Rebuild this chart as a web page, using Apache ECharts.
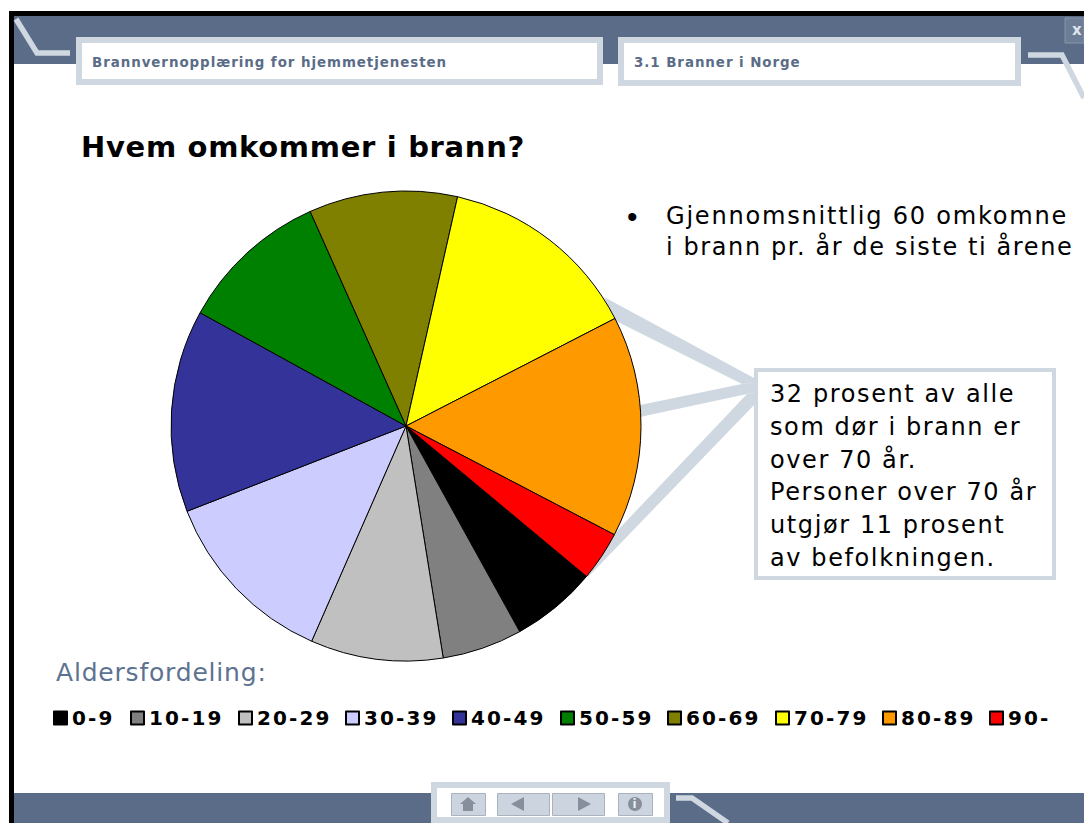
<!DOCTYPE html>
<html><head><meta charset="utf-8">
<style>html,body{margin:0;padding:0;background:#fff}#c{width:1084px;height:823px}
#c text[style*="29px"]{letter-spacing:.68px}
#c text[style*="13.4px"]{letter-spacing:.95px}
#c text[style*="24.1px"]{letter-spacing:1.75px}
#c text[style*="24.01px"]{letter-spacing:1.6px}
#c text[style*="24px"]{letter-spacing:1.6px}
#c text[style*="20px"]{letter-spacing:2.1px}
#c text[style*="25px"]{letter-spacing:.8px}
</style>
<script src="https://cdn.jsdelivr.net/npm/echarts@6/dist/echarts.min.js"></script>
</head><body><div id="c"></div>
<script>
const ageGroups = ['0-9','10-19','20-29','30-39','40-49','50-59','60-69','70-79','80-89','90-'];
const shares = [5.9,5.5,9.1,12.5,13.9,10.3,10.2,13.9,15.2,3.4];
const sliceColors = ['#000000','#808080','#c0c0c0','#ccccff','#333399','#008000','#808000','#ffff00','#ff9900','#ff0000'];
const legendLefts = [48,125,233,340,447,555,662,770,877,984];
const titleText = 'Hvem omkommer i brann?';
const header1 = 'Brannvernopplæring for hjemmetjenesten';
const header2 = '3.1 Branner i Norge';
const legendHeading = 'Aldersfordeling:';
const bulletLines = ['Gjennomsnittlig 60 omkomne','i brann pr. år de siste ti årene'];
const calloutLines = ['32 prosent av alle','som dør i brann er','over 70 år.','Personer over 70 år','utgjør 11 prosent','av befolkningen.'];

const BAND='#5a6c87', PALE='#cfd7e1', BTN='#ccd5df', ICON='#868f9b';
const rect=(x,y,w,h,fill,stroke,lw,z)=>({type:'rect',shape:{x,y,width:w,height:h},style:{fill,stroke:stroke||null,lineWidth:lw||0},z:z===undefined?-5:z,silent:true});
const poly=(points,fill,z)=>({type:'polygon',shape:{points},style:{fill:fill||PALE},z:z===undefined?-4:z,silent:true});
const line=(points,z)=>({type:'polyline',shape:{points},style:{stroke:PALE,lineWidth:5.5,fill:null},z:z===undefined?-3:z,silent:true});
const txt=(x,y,text,font,fill)=>({type:'text',x,y,style:{text,fontFamily:font.f,fontSize:font.s,fontWeight:font.w||'normal',fill:fill||'#000',textVerticalAlign:'middle',textBaseline:'middle'},z:10,silent:true});
const box=(x,y,w,h,b)=>rect(x+b/2,y+b/2,w-b,h-b,'#fff',PALE,b,-2);
const btn=(x,y,w,h)=>rect(x,y,w,h,BTN,'#a9b2bd',1,5);

const g=[
  rect(9,11,1075,812,'#fff',null,0,-6),
  rect(9,11,1075,5,'#000',null,0,-5),
  rect(9,11,5,812,'#000',null,0,-5),
  rect(14,16,1070,48,BAND,null,0,-5),
  rect(14,793,1070,30,BAND,null,0,-5),
  line([[16,19],[37,53],[70,53]]),
  line([[1028,55],[1062,55],[1084,98]]),
  line([[676,798],[692,798],[728,823]]),
  box(76,37,527,48,6),
  box(618,37,403,49,6),
  rect(1065,18,19,25,'#6c7d95','#8795a8',1,5),
  txt(1072,30,'x',{f:'DejaVu Sans',s:15,w:'bold'},'#dfe4ea'),
  txt(92,62,header1,{f:'DejaVu Sans',s:13.4,w:'bold'},BAND),
  txt(634,62,header2,{f:'DejaVu Sans',s:13.4,w:'bold'},BAND),
  txt(81,147,titleText,{f:'DejaVu Sans',s:29,w:'bold'},'#000'),
  txt(627,216,'•',{f:'Liberation Sans',s:30},'#000'),
  txt(666,216,bulletLines[0],{f:'DejaVu Sans',s:24.1},'#000'),
  txt(666,247,bulletLines[1],{f:'DejaVu Sans',s:24.01},'#000'),
  poly([[604,297],[754,378],[754,382],[742,384],[614,320]]),
  poly([[640,405],[742,384],[754,382],[754,392],[747,394],[640,417]]),
  poly([[747,394],[754,392],[754,405],[588,577],[580,570]]),
  box(754,368,302,212,4),
  txt(56,672,legendHeading,{f:'DejaVu Sans',s:25},'#5d7291'),
  box(431,782,239,41,6),
  btn(451.5,793.5,34,22),btn(497.5,793.5,52,22),btn(552.5,793.5,52,22),btn(618.5,793.5,34,22),
  poly([[468,797],[476,804],[473,804],[473,811],[463,811],[463,804],[460,804]],ICON,6),
  poly([[511,804],[524,797],[524,811]],ICON,6),
  poly([[591,804],[578,797],[578,811]],ICON,6),
  {type:'circle',shape:{cx:635,cy:804,r:7},style:{fill:ICON},z:6,silent:true},
  txt(632.5,804,'i',{f:'DejaVu Sans',s:12,w:'bold'},'#e8ecf0')
];
calloutLines.forEach((t,i)=>g.push(txt(770,394+i*32.8,t,{f:'DejaVu Sans',s:24},'#000')));

const chart=echarts.init(document.getElementById('c'),null,{renderer:'svg'});
chart.setOption({
  animation:false,
  backgroundColor:'#fff',
  color:sliceColors,
  legend:ageGroups.map((name,i)=>({
    left:legendLefts[i],top:703,itemWidth:13,itemHeight:13,itemGap:4,icon:'rect',
    selectedMode:false,
    textStyle:{fontFamily:'DejaVu Sans',fontWeight:'bold',fontSize:20,color:'#000'},
    data:[name]
  })),
  series:[{
    type:'pie',center:[406,426],radius:[0,235],startAngle:-39.8,clockwise:true,
    label:{show:false},labelLine:{show:false},silent:true,
    itemStyle:{borderColor:'#000',borderWidth:1},
    emphasis:{disabled:true},
    data:ageGroups.map((name,i)=>({name,value:shares[i]}))
  }],
  graphic:{elements:g}
});
</script></body></html>
